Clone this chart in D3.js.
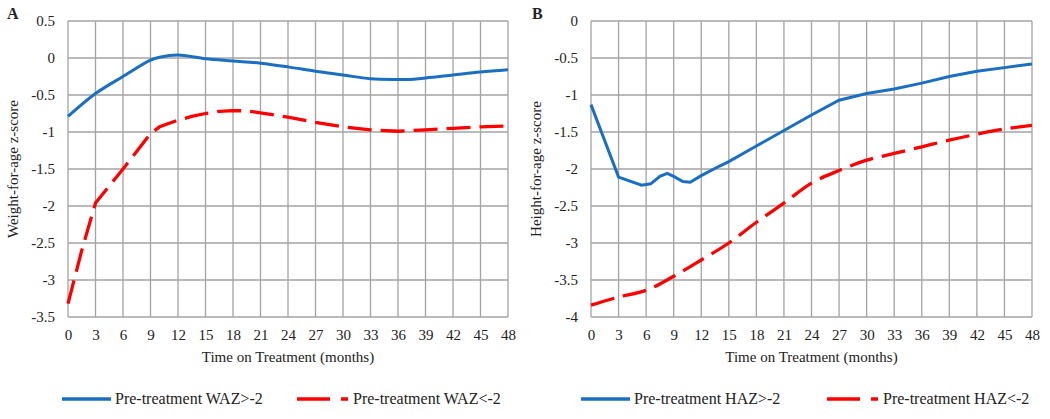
<!DOCTYPE html>
<html><head><meta charset="utf-8">
<script src="https://cdn.jsdelivr.net/npm/d3@7"></script>
<style>body{margin:0;background:#fff}svg{display:block}text{font-family:"Liberation Serif","Times New Roman",serif;fill:#222}</style>
</head><body><svg id="c" width="1050" height="419"></svg>
<script>
const xTicks = [0,3,6,9,12,15,18,21,24,27,30,33,36,39,42,45,48];
const yTicksA = [0.5,0,-0.5,-1,-1.5,-2,-2.5,-3,-3.5];
const yTicksB = [0,-0.5,-1,-1.5,-2,-2.5,-3,-3.5,-4];

const wazHighMonths = [0,3,6,9,10,12,15,18,21,24,27,30,33,36,37,39,42,45,48];
const wazHighValues = [-0.79,-0.48,-0.25,-0.03,0.01,0.04,-0.01,-0.04,-0.07,-0.12,-0.18,-0.23,-0.28,-0.29,-0.29,-0.27,-0.23,-0.19,-0.16];
const wazLowMonths = [0,1.5,3,6,9,10,12,13.5,15,16.5,18,19.5,21,24,27,30,33,36,39,42,45,47.5];
const wazLowValues = [-3.32,-2.6,-1.96,-1.5,-1.02,-0.93,-0.84,-0.79,-0.75,-0.72,-0.71,-0.715,-0.74,-0.8,-0.87,-0.93,-0.97,-0.99,-0.97,-0.95,-0.93,-0.92];

const hazHighMonths = [0,3,5.5,6.5,7.5,8.3,9,10,10.8,12,14,15,18,21,24,27,30,33,36,39,42,45,48];
const hazHighValues = [-1.13,-2.11,-2.22,-2.2,-2.1,-2.06,-2.1,-2.17,-2.18,-2.09,-1.96,-1.9,-1.69,-1.48,-1.27,-1.07,-0.98,-0.92,-0.84,-0.75,-0.68,-0.63,-0.58];
const hazLowMonths = [0,3,6,9,12,15,18,21,24,27,30,33,36,39,42,45,48];
const hazLowValues = [-3.84,-3.73,-3.64,-3.45,-3.23,-3.0,-2.72,-2.46,-2.19,-2.02,-1.88,-1.79,-1.7,-1.61,-1.53,-1.46,-1.41];

const svg = d3.select("#c");
const blue = "#1a6fc2", red = "#ff0000", grid = "#a3a3a3";

function panel(o){
  const g = svg.append("g");
  const x = d3.scaleLinear().domain([0,48]).range([o.left,o.right]);
  const y = d3.scaleLinear().domain(o.yDomain).range([o.bottom,o.top]);
  g.selectAll(".vg").data(xTicks).join("line").attr("x1",d=>x(d)).attr("x2",d=>x(d))
    .attr("y1",o.top).attr("y2",o.bottom).attr("stroke",grid).attr("stroke-width",1.3);
  g.selectAll(".hg").data(o.yTicks).join("line").attr("x1",o.left).attr("x2",o.right)
    .attr("y1",d=>y(d)).attr("y2",d=>y(d)).attr("stroke",grid).attr("stroke-width",1.3);
  const ax = g.append("g").attr("transform",`translate(0,${o.bottom})`)
    .call(d3.axisBottom(x).tickValues(xTicks).tickSize(0).tickPadding(12).tickFormat(d3.format("d")));
  ax.select(".domain").remove();
  ax.selectAll("text").attr("font-size",15).style("font-family","Liberation Serif").attr("fill","#222");
  const ay = g.append("g").attr("transform",`translate(${o.left},0)`)
    .call(d3.axisLeft(y).tickValues(o.yTicks).tickSize(0).tickPadding(13).tickFormat(d=>String(d)));
  ay.select(".domain").remove();
  ay.selectAll("text").attr("font-size",15).style("font-family","Liberation Serif").attr("fill","#222");
  g.append("text").attr("x",(o.left+o.right)/2).attr("y",362).attr("text-anchor","middle")
    .attr("font-size",15).text("Time on Treatment (months)");
  g.append("text").attr("transform",`translate(${o.left-50},${(o.top+o.bottom)/2}) rotate(-90)`)
    .attr("text-anchor","middle").attr("font-size",15).text(o.yTitle);
  g.append("text").attr("x",o.letterX).attr("y",19).attr("font-size",16).attr("font-weight","bold").text(o.letter);
  const lineOf = c => d3.line().x(d=>x(d[0])).y(d=>y(d[1])).curve(c);
  g.append("path").datum(d3.zip(o.hiM,o.hiV)).attr("d",lineOf(o.hiCurve)).attr("fill","none")
    .attr("stroke",blue).attr("stroke-width",3);
  g.append("path").datum(d3.zip(o.loM,o.loV)).attr("d",lineOf(o.loCurve)).attr("fill","none")
    .attr("stroke",red).attr("stroke-width",3.3).attr("stroke-dasharray","24,9");
  const ly = 399;
  g.append("line").attr("x1",o.leg1).attr("x2",o.leg1+49).attr("y1",ly).attr("y2",ly)
    .attr("stroke",blue).attr("stroke-width",3.5);
  g.append("text").attr("x",o.leg1+53).attr("y",ly+5).attr("font-size",16).text(o.hiLabel);
  g.append("line").attr("x1",o.leg2).attr("x2",o.leg2+51).attr("y1",ly).attr("y2",ly)
    .attr("stroke",red).attr("stroke-width",3.5).attr("stroke-dasharray","33,11,7,100");
  g.append("text").attr("x",o.leg2+56).attr("y",ly+5).attr("font-size",16).text(o.loLabel);
}

panel({left:68,right:508,top:21,bottom:317,yDomain:[-3.5,0.5],yTicks:yTicksA,
  yTitle:"Weight-for-age z-score",letter:"A",letterX:7,
  hiM:wazHighMonths,hiV:wazHighValues,loM:wazLowMonths,loV:wazLowValues,
  hiCurve:d3.curveCatmullRom.alpha(0.5),loCurve:d3.curveLinear,
  leg1:62,leg2:297,hiLabel:"Pre-treatment WAZ>-2",loLabel:"Pre-treatment WAZ<-2"});
panel({left:591,right:1032,top:21,bottom:317,yDomain:[-4,0],yTicks:yTicksB,
  yTitle:"Height-for-age z-score",letter:"B",letterX:532,
  hiM:hazHighMonths,hiV:hazHighValues,loM:hazLowMonths,loV:hazLowValues,
  hiCurve:d3.curveLinear,loCurve:d3.curveCatmullRom.alpha(0.5),
  leg1:581,leg2:827,hiLabel:"Pre-treatment HAZ>-2",loLabel:"Pre-treatment HAZ<-2"});
</script></body></html>
